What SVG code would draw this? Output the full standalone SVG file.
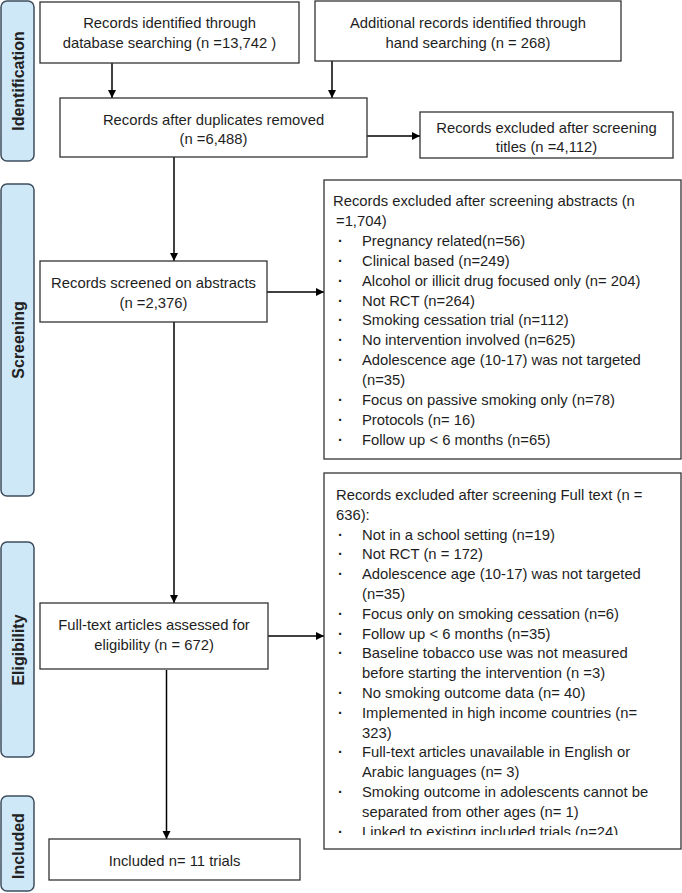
<svg xmlns="http://www.w3.org/2000/svg" width="682" height="893" viewBox="0 0 682 893">
<style>
.box{fill:#fff;stroke:#333;stroke-width:1.3}
.lab{fill:#cfe8f8;stroke:#3e4e5e;stroke-width:1.5}
.t{font-family:"Liberation Sans",Arial,sans-serif;font-size:14.8px;fill:#1e1e1e}
.b{font-weight:bold}
.c{text-anchor:middle}
.lt{font-family:"Liberation Sans",Arial,sans-serif;font-size:16px;font-weight:bold;fill:#222;text-anchor:middle}
.ln{stroke:#000;stroke-width:1.5;fill:none}
</style>
<defs>
<marker id="ah" markerUnits="userSpaceOnUse" markerWidth="9" markerHeight="9" refX="8" refY="4" orient="auto">
<path d="M0,0 L8,4 L0,8 z" fill="#000"/>
</marker>
<clipPath id="cl7"><rect x="324" y="473" width="357" height="362"/></clipPath>
</defs>

<g id="stage-identification">
<rect class="lab" x="1" y="1" width="33" height="160" rx="6"/>
<text class="lt" transform="translate(24,81) rotate(-90)">Identification</text>
</g>
<g id="stage-screening">
<rect class="lab" x="1" y="184" width="33" height="312" rx="6"/>
<text class="lt" transform="translate(24,340) rotate(-90)">Screening</text>
</g>
<g id="stage-eligibility">
<rect class="lab" x="1" y="542" width="33" height="215" rx="6"/>
<text class="lt" transform="translate(24,650) rotate(-90)">Eligibility</text>
</g>
<g id="stage-included">
<rect class="lab" x="1" y="796" width="33" height="95" rx="6"/>
<text class="lt" transform="translate(24,846) rotate(-90)">Included</text>
</g>

<g id="connectors">
<line class="ln" x1="112" y1="63" x2="112" y2="98" marker-end="url(#ah)"/>
<line class="ln" x1="332" y1="61" x2="332" y2="98" marker-end="url(#ah)"/>
<line class="ln" x1="367" y1="136" x2="420" y2="136" marker-end="url(#ah)"/>
<line class="ln" x1="174" y1="157" x2="174" y2="261" marker-end="url(#ah)"/>
<line class="ln" x1="267" y1="292" x2="324" y2="292" marker-end="url(#ah)"/>
<line class="ln" x1="174" y1="322" x2="174" y2="603" marker-end="url(#ah)"/>
<line class="ln" x1="268" y1="636" x2="324" y2="636" marker-end="url(#ah)"/>
<line class="ln" x1="166.5" y1="670" x2="166.5" y2="839" marker-end="url(#ah)"/>
</g>

<g id="n-database">
<rect class="box" x="40" y="2" width="259" height="61"/>
<text class="t c" x="169.5" y="28">Records identified through</text>
<text class="t c" x="169.5" y="48">database searching (n =13,742 )</text>
</g>
<g id="n-hand">
<rect class="box" x="315" y="1" width="306" height="60"/>
<text class="t c" x="468" y="28">Additional records identified through</text>
<text class="t c" x="468" y="48">hand searching (n = 268)</text>
</g>
<g id="n-duplicates">
<rect class="box" x="60" y="98" width="307" height="59"/>
<text class="t c" x="213.5" y="125">Records after duplicates removed</text>
<text class="t c" x="213.5" y="144">(n =6,488)</text>
</g>
<g id="n-titles">
<rect class="box" x="420" y="112" width="253" height="46"/>
<text class="t c" x="546.5" y="133">Records excluded after screening</text>
<text class="t c" x="546.5" y="152">titles (n =4,112)</text>
</g>
<g id="n-abstracts">
<rect class="box" x="40" y="261" width="227" height="61"/>
<text class="t c" x="153.5" y="288">Records screened on abstracts</text>
<text class="t c" x="153.5" y="308">(n =2,376)</text>
</g>
<g id="n-excl-abstracts">
<rect class="box" x="324" y="180" width="357" height="279"/>
<text class="t">
<tspan x="333" y="206">Records excluded after screening abstracts (n</tspan>
<tspan x="336" y="225.9">=1,704)</tspan>
<tspan class="b" x="338" y="245.8">·</tspan><tspan x="362" y="245.8">Pregnancy related(n=56)</tspan>
<tspan class="b" x="338" y="265.7">·</tspan><tspan x="362" y="265.7">Clinical based (n=249)</tspan>
<tspan class="b" x="338" y="285.6">·</tspan><tspan x="362" y="285.6">Alcohol or illicit drug focused only (n= 204)</tspan>
<tspan class="b" x="338" y="305.5">·</tspan><tspan x="362" y="305.5">Not RCT (n=264)</tspan>
<tspan class="b" x="338" y="325.4">·</tspan><tspan x="362" y="325.4">Smoking cessation trial (n=112)</tspan>
<tspan class="b" x="338" y="345.3">·</tspan><tspan x="362" y="345.3">No intervention involved (n=625)</tspan>
<tspan class="b" x="338" y="365.2">·</tspan><tspan x="362" y="365.2">Adolescence age (10-17) was not targeted</tspan>
<tspan x="362" y="385.1">(n=35)</tspan>
<tspan class="b" x="338" y="405">·</tspan><tspan x="362" y="405">Focus on passive smoking only (n=78)</tspan>
<tspan class="b" x="338" y="424.9">·</tspan><tspan x="362" y="424.9">Protocols (n= 16)</tspan>
<tspan class="b" x="338" y="444.8">·</tspan><tspan x="362" y="444.8">Follow up &lt; 6 months (n=65)</tspan>
</text>
</g>
<g id="n-fulltext">
<rect class="box" x="40" y="603" width="228" height="66"/>
<text class="t c" x="154" y="630">Full-text articles assessed for</text>
<text class="t c" x="154" y="650">eligibility (n = 672)</text>
</g>
<g id="n-excl-fulltext">
<rect class="box" x="324" y="473" width="357" height="376"/>
<text class="t" clip-path="url(#cl7)">
<tspan x="336" y="500">Records excluded after screening Full text (n =</tspan>
<tspan x="336" y="519.8">636):</tspan>
<tspan class="b" x="338" y="539.6">·</tspan><tspan x="362" y="539.6">Not in a school setting (n=19)</tspan>
<tspan class="b" x="338" y="559.4">·</tspan><tspan x="362" y="559.4">Not RCT (n = 172)</tspan>
<tspan class="b" x="338" y="579.2">·</tspan><tspan x="362" y="579.2">Adolescence age (10-17) was not targeted</tspan>
<tspan x="362" y="599">(n=35)</tspan>
<tspan class="b" x="338" y="618.8">·</tspan><tspan x="362" y="618.8">Focus only on smoking cessation (n=6)</tspan>
<tspan class="b" x="338" y="638.6">·</tspan><tspan x="362" y="638.6">Follow up &lt; 6 months (n=35)</tspan>
<tspan class="b" x="338" y="658.4">·</tspan><tspan x="362" y="658.4">Baseline tobacco use was not measured</tspan>
<tspan x="362" y="678.2">before starting the intervention (n =3)</tspan>
<tspan class="b" x="338" y="698">·</tspan><tspan x="362" y="698">No smoking outcome data (n= 40)</tspan>
<tspan class="b" x="338" y="717.8">·</tspan><tspan x="362" y="717.8">Implemented in high income countries (n=</tspan>
<tspan x="362" y="737.6">323)</tspan>
<tspan class="b" x="338" y="757.4">·</tspan><tspan x="362" y="757.4">Full-text articles unavailable in English or</tspan>
<tspan x="362" y="777.2">Arabic languages (n= 3)</tspan>
<tspan class="b" x="338" y="797">·</tspan><tspan x="362" y="797">Smoking outcome in adolescents cannot be</tspan>
<tspan x="362" y="816.8">separated from other ages (n= 1)</tspan>
<tspan class="b" x="338" y="836.6">·</tspan><tspan x="362" y="836.6">Linked to existing included trials (n=24)</tspan>
</text>
</g>
<g id="n-included">
<rect class="box" x="49" y="839" width="251" height="41"/>
<text class="t c" x="174.5" y="866">Included n= 11 trials</text>
</g>
</svg>
